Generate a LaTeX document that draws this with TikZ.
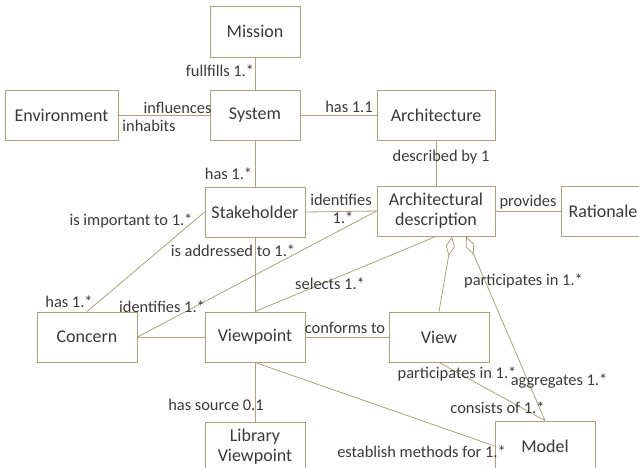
\documentclass[tikz,border=0pt]{standalone}
\usepackage{fontspec}
\setmainfont{Carlito}
\usetikzlibrary{arrows.meta}
\definecolor{lnc}{RGB}{168,163,128}
\definecolor{txc}{RGB}{58,58,58}
\tikzset{
  box/.style={draw=lnc, line width=0.9pt, fill=white, text=txc, align=center, inner sep=0pt,
    font=\fontsize{18}{22}\selectfont, minimum height=50pt},
  lab/.style={text=txc, inner sep=0pt, font=\fontsize{16.4}{18}\selectfont},
  conn/.style={draw=lnc, line width=0.8pt},
  agg/.style={conn, {Diamond[open, length=20pt, width=9pt, fill=white]}-}
}
\begin{document}
\begin{tikzpicture}[x=1pt, y=-1pt]
\useasboundingbox (0,0) rectangle (639,467);
\clip (0,0) rectangle (639,467);
% nodes
\node[box, minimum width=90pt, minimum height=51pt] (mission) at (255,31.5) {Mission};
\node[box, minimum width=113pt] (env) at (61.5,115) {Environment};
\node[box, minimum width=90pt] (sys) at (255,115) {System};
\node[box, minimum width=118pt] (arch) at (436,115) {Architecture};
\node[box, minimum width=118pt] (ad) at (436,211) {Architectural\\[-2pt]description};
\node[box, minimum width=84pt] (rat) at (603,211) {Rationale};
\node[box, minimum width=100pt] (stake) at (255,212) {Stakeholder};
\node[box, minimum width=100pt] (concern) at (87,337) {Concern};
\node[box, minimum width=100pt] (vp) at (255,337) {Viewpoint};
\node[box, minimum width=100pt] (view) at (439,337) {View};
\node[box, minimum width=100pt] (lib) at (255,447) {Library\\[-2pt]Viewpoint};
\node[box, minimum width=100pt] (model) at (545,446) {Model};
% connectors
\draw[conn] (mission.south) -- (sys.north);
\draw[conn] (env.east) -- (sys.west);
\draw[conn] (sys.east) -- (arch.west);
\draw[conn] (sys.south) -- (stake.north);
\draw[conn] (arch.south) -- (ad.north);
\draw[conn] (stake.east) -- (ad.west);
\draw[conn] (ad.east) -- (rat.west);
\draw[conn] (stake.west) -- (concern.north);
\draw[conn] (ad.west) -- (concern.east);
\draw[conn] (stake.south) -- (vp.north);
\draw[conn] (concern.east) -- (vp.west);
\draw[conn] (ad.south) -- (vp.north);
\draw[conn] (vp.east) -- (view.west);
\draw[conn] (view.south) -- (model.north);
\draw[conn] (vp.south) -- (model.west);
\draw[conn] (vp.south) -- (lib.north);
\draw[agg] ([xshift=16pt]ad.south) -- (view.north);
\draw[agg] ([xshift=30pt]ad.south) -- (model.north);
% labels
\node[lab] (l1) at (220,71) {fullfills 1.*};
\node[lab] (l2) at (177.5,108) {influences};
\node[lab] (l3) at (149,126) {inhabits};
\node[lab] (l4) at (349,107) {has 1.1};
\node[lab] (l5) at (228.5,174) {has 1.*};
\node[lab] (l6) at (441,157) {described by 1};
\node[lab] (l7) at (341,200) {identifies};
\node[lab] (l8) at (343,218) {1.*};
\node[lab] (l9) at (528,202) {provides};
\node[lab] (l10) at (131,221) {is important to 1.*};
\node[lab] (l11) at (233,251) {is addressed to 1.*};
\node[lab] (l12) at (69,302) {has 1.*};
\node[lab] (l13) at (162,307) {identifies 1.*};
\node[lab] (l14) at (330,284) {selects 1.*};
\node[lab] (l15) at (345,328) {conforms to};
\node[lab] (l16) at (523.5,281) {participates in 1.*};
\node[lab] (l17) at (457,374) {participates in 1.*};
\node[lab] (l18) at (559,381) {aggregates 1.*};
\node[lab] (l19) at (497.5,408) {consists of 1.*};
\node[lab] (l20) at (216,405) {has source 0.1};
\node[lab] (l21) at (421.5,452) {establish methods for 1.*};
\end{tikzpicture}
\end{document}
